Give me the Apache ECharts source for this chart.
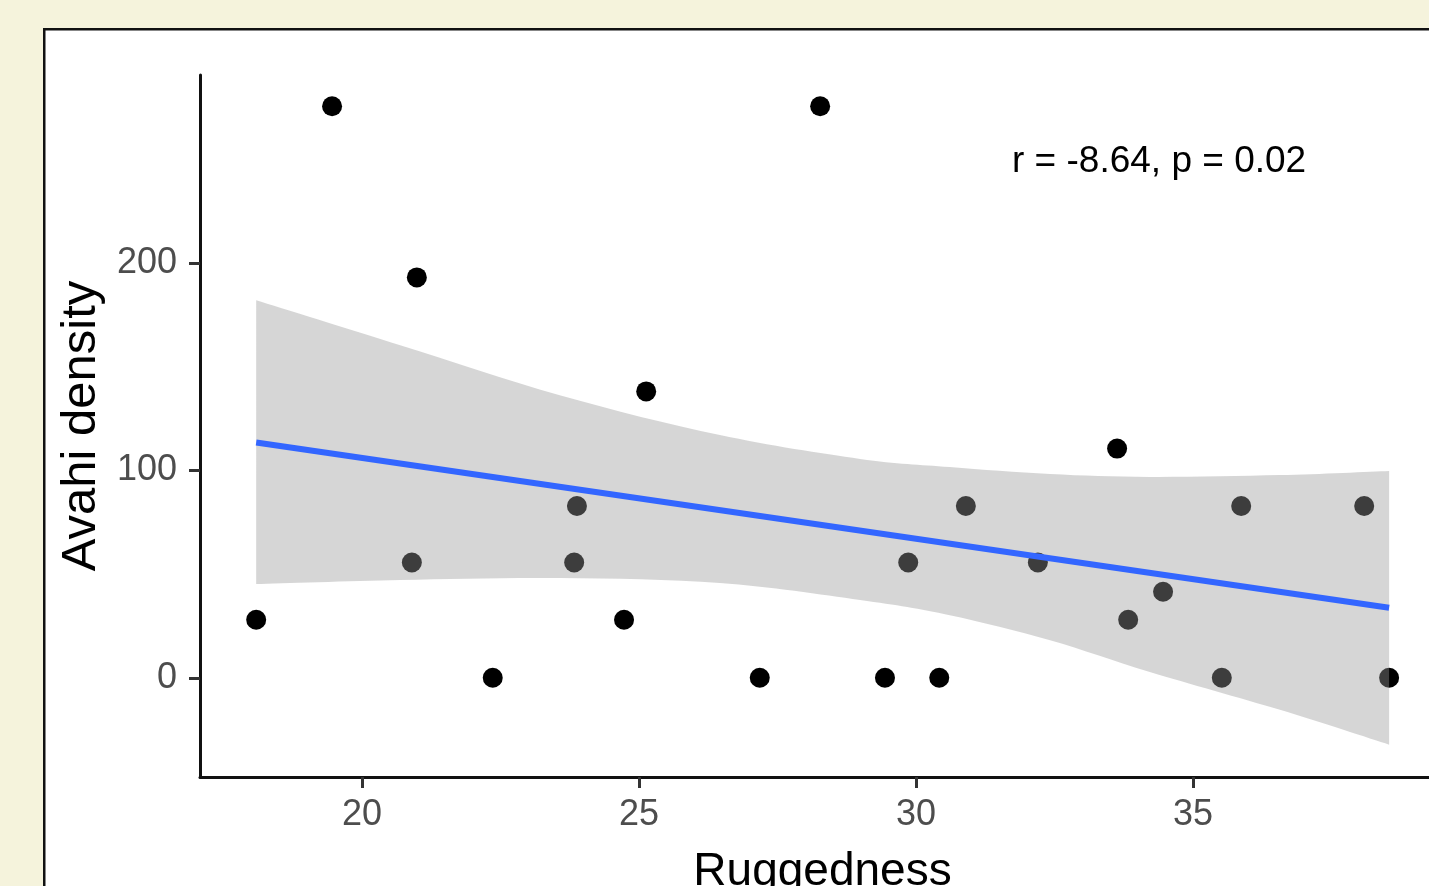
<!DOCTYPE html>
<html>
<head>
<meta charset="utf-8">
<title>Avahi density vs Ruggedness</title>
<script src="https://cdn.jsdelivr.net/npm/echarts@6/dist/echarts.min.js"></script>
<style>
  html, body { margin: 0; padding: 0; background: #f5f3dc; }
  #chart { width: 1429px; height: 886px; }
</style>
</head>
<body>
<div id="chart"></div>
<script>
// points: [ruggedness, density]
const ruggedness = [18.09, 19.46, 20.99, 20.9, 22.36, 23.88, 23.83, 24.73, 25.13, 27.18, 28.27,
  29.44, 29.86, 30.42, 30.9, 32.2, 33.63, 33.83, 34.46, 35.52, 35.87, 38.09, 38.54]
const density = [28, 275.8, 193.2, 55.6, 0, 82.9, 55.6, 28, 138.2, 0, 275.8,
  0, 55.6, 0, 82.9, 55.6, 110.6, 28, 41.5, 0, 82.9, 82.9, 0]

// fitted line end points
const fitX = [18.09, 38.54]
const fitY = [113.5, 33.8]

// confidence band edges
const bandX = [18.09, 20.69, 23.57, 26.46, 28.99, 30.61, 32.42, 34.22, 36.57, 38.54]
const bandLower = [45.2, 47.2, 48.1, 45.7, 37.5, 30.2, 18.1, 2.8, -15.5, -32.3]
const bandUpper = [182.2, 160.5, 136.4, 117.1, 105.6, 101.7, 98.3, 96.9, 97.8, 99.8]

const xTicks = [20, 25, 30, 35]
const yTicks = [0, 100, 200]

const font = 'Liberation Sans, Arial, sans-serif'

// smooth curve through pixel points (catmull-rom as cubic bezier)
function curveTo(pts) {
  let d = ''
  for (let i = 0; i < pts.length - 1; i++) {
    const p0 = pts[Math.max(i - 1, 0)]
    const p1 = pts[i]
    const p2 = pts[i + 1]
    const p3 = pts[Math.min(i + 2, pts.length - 1)]
    const c1 = [p1[0] + (p2[0] - p0[0]) / 6, p1[1] + (p2[1] - p0[1]) / 6]
    const c2 = [p2[0] - (p3[0] - p1[0]) / 6, p2[1] - (p3[1] - p1[1]) / 6]
    d += ' C' + c1[0] + ',' + c1[1] + ' ' + c2[0] + ',' + c2[1] + ' ' + p2[0] + ',' + p2[1]
  }
  return d
}

function renderBand(params, api) {
  if (params.dataIndex !== 0) return null
  const up = bandX.map((x, i) => api.coord([x, bandUpper[i]]))
  const low = bandX.map((x, i) => api.coord([x, bandLower[i]])).reverse()
  const d = 'M' + up[0][0] + ',' + up[0][1] + curveTo(up) +
    ' L' + low[0][0] + ',' + low[0][1] + curveTo(low) + ' Z'
  return {
    type: 'path',
    shape: { pathData: d },
    style: { fill: 'rgba(153,153,153,0.4)' }
  }
}

const chart = echarts.init(document.getElementById('chart'))
chart.setOption({
  backgroundColor: '#f5f3dc',
  animation: false,
  graphic: [
    {
      type: 'rect',
      left: 43,
      top: 28,
      z: -10,
      shape: { width: 1500, height: 1000 },
      style: { fill: '#ffffff', stroke: '#111111', lineWidth: 2.5 }
    },
    {
      type: 'text',
      left: 1012,
      top: 143,
      z: 10,
      style: {
        text: 'r = -8.64, p = 0.02',
        font: '37px ' + font,
        fill: '#000000'
      }
    }
  ],
  grid: {
    left: 200,
    top: 75,
    width: 1229,
    height: 702,
    outerBoundsMode: 'none'
  },
  xAxis: {
    type: 'value',
    min: 17.076,
    max: 39.26,
    name: 'Ruggedness',
    nameLocation: 'middle',
    nameGap: 72,
    nameTextStyle: { fontFamily: font, fontSize: 46, color: '#000', padding: [0, 0, 0, 16] },
    axisLine: { onZero: false, lineStyle: { color: '#111', width: 3 } },
    axisTick: { show: true, length: 11, customValues: xTicks, lineStyle: { color: '#333', width: 3 } },
    axisLabel: { customValues: xTicks, margin: 20, fontFamily: font, fontSize: 36, color: '#4d4d4d' },
    splitLine: { show: false }
  },
  yAxis: {
    type: 'value',
    min: -47.9,
    max: 290.9,
    name: 'Avahi density',
    nameLocation: 'middle',
    nameGap: 88,
    nameTextStyle: { fontFamily: font, fontSize: 49, color: '#000' },
    axisLine: { onZero: false, lineStyle: { color: '#111', width: 3 } },
    axisTick: { show: true, length: 11, customValues: yTicks, lineStyle: { color: '#333', width: 3 } },
    axisLabel: { customValues: yTicks, margin: 23, fontFamily: font, fontSize: 36, color: '#4d4d4d' },
    splitLine: { show: false }
  },
  series: [
    {
      type: 'scatter',
      z: 2,
      symbolSize: 20,
      itemStyle: { color: '#000000', opacity: 1 },
      data: ruggedness.map((x, i) => [x, density[i]])
    },
    {
      type: 'custom',
      z: 3,
      renderItem: renderBand,
      data: bandX.map((x, i) => [x, bandLower[i], bandUpper[i]])
    },
    {
      type: 'line',
      z: 4,
      symbol: 'none',
      lineStyle: { color: '#3366ff', width: 6 },
      data: fitX.map((x, i) => [x, fitY[i]])
    }
  ]
})
</script>
</body>
</html>
